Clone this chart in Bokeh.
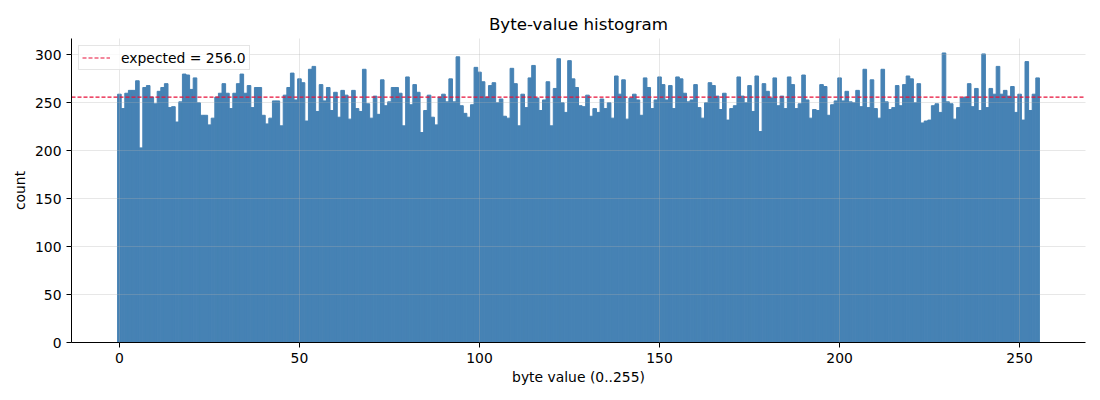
from bokeh.plotting import figure
from bokeh.models import Range1d, FixedTicker, Legend, LegendItem
from bokeh.embed import file_html
from bokeh.resources import INLINE

# ---- data -----------------------------------------------------------------
BYTE_VALUES = list(range(256))
COUNTS = [
    259, 244, 260, 263, 263, 273, 203, 266, 268, 256, 249, 262, 266, 270, 245, 246,
    230, 251, 280, 279, 264, 276, 250, 237, 237, 227, 234, 256, 260, 270, 260, 244,
    260, 270, 280, 260, 268, 245, 266, 266, 237, 228, 234, 252, 252, 226, 258, 266,
    281, 253, 275, 271, 231, 285, 288, 241, 269, 252, 266, 242, 261, 235, 263, 258,
    233, 263, 244, 241, 285, 249, 234, 257, 238, 274, 247, 251, 266, 266, 260, 226,
    277, 248, 269, 261, 219, 242, 258, 235, 227, 256, 259, 251, 275, 251, 298, 247,
    239, 235, 248, 287, 282, 272, 256, 268, 271, 250, 254, 236, 234, 286, 270, 226,
    259, 245, 276, 289, 255, 242, 253, 272, 226, 265, 296, 250, 240, 294, 275, 266,
    247, 246, 258, 236, 244, 240, 254, 244, 250, 234, 278, 259, 274, 233, 255, 259,
    253, 237, 276, 266, 244, 253, 277, 269, 253, 268, 244, 277, 275, 260, 251, 253,
    269, 245, 234, 250, 271, 268, 257, 243, 260, 232, 244, 247, 277, 257, 250, 268,
    241, 278, 220, 270, 262, 255, 276, 247, 257, 244, 277, 269, 244, 249, 279, 253,
    234, 243, 242, 269, 267, 237, 248, 252, 276, 252, 262, 251, 250, 263, 246, 285,
    245, 274, 244, 234, 285, 251, 243, 245, 268, 247, 269, 278, 275, 250, 270, 229,
    231, 232, 247, 249, 240, 302, 251, 249, 233, 245, 255, 256, 270, 246, 265, 242,
    301, 245, 265, 259, 288, 259, 263, 257, 267, 240, 259, 232, 293, 242, 259, 276,
]
EXPECTED = 256.0
X_TICKS = [0, 50, 100, 150, 200, 250]
Y_TICKS = [0, 50, 100, 150, 200, 250, 300]
TITLE = "Byte-value histogram"
X_LABEL = "byte value (0..255)"
Y_LABEL = "count"

# ---- ranges (matplotlib-like 5% margins) ----------------------------------
lo = BYTE_VALUES[0] - 0.5
hi = BYTE_VALUES[-1] + 0.5
span_w = hi - lo
x_start, x_end = lo - 0.05 * span_w, hi + 0.05 * span_w
x_range = Range1d(x_start, x_end)
y_range = Range1d(0, max(COUNTS) * 1.05)

FONT = "DejaVu Sans"
BAR = "#4682b4"
RED = "#e8103a"

p = figure(
    width=1100, height=400,
    output_backend="svg", toolbar_location=None,
    x_range=x_range, y_range=y_range,
    min_border_left=71, min_border_right=15,
    min_border_top=38, min_border_bottom=58,
    title=TITLE,
)
p.outline_line_color = None
p.background_fill_color = "white"
p.border_fill_color = "white"

p.title.align = "center"
p.title.text_font = FONT
p.title.text_font_size = "16.7px"
p.title.text_font_style = "normal"
p.title.text_color = "black"

p.vbar(x=BYTE_VALUES, width=1.0, top=COUNTS, bottom=0,
       fill_color=BAR, line_color=BAR, line_width=1)

# grid drawn above the bars, faint
p.grid.grid_line_color = "#b0b0b0"
p.grid.grid_line_alpha = 0.3
p.grid.grid_line_width = 1
p.grid.level = "guide"

# expected line across the whole axis width
exp_line = p.line(x=[x_start, x_end], y=[EXPECTED, EXPECTED],
                  line_color=RED, line_dash="4 2", line_width=1.2)
legend = Legend(items=[LegendItem(label=f"expected = {EXPECTED:.1f}", renderers=[exp_line])],
                location="top_left")
legend.border_line_color = "#cccccc"
legend.border_line_width = 1
legend.background_fill_alpha = 0.8
legend.label_text_font = FONT
legend.label_text_font_size = "13.9px"
legend.label_text_color = "black"
legend.glyph_width = 28
legend.glyph_height = 17
legend.label_height = 17
legend.label_standoff = 11
legend.padding = 3
legend.margin = 7
p.add_layout(legend)

# axes
p.xaxis.ticker = FixedTicker(ticks=X_TICKS)
p.yaxis.ticker = FixedTicker(ticks=Y_TICKS)
p.xaxis.axis_label = X_LABEL
p.yaxis.axis_label = Y_LABEL
for ax in (p.xaxis, p.yaxis):
    ax.minor_tick_line_color = None
    ax.major_tick_in = 0
    ax.major_tick_out = 5
    ax.axis_line_color = "black"
    ax.major_tick_line_color = "black"
    ax.major_label_text_font = FONT
    ax.major_label_text_font_size = "13.9px"
    ax.major_label_text_color = "black"
    ax.axis_label_text_font = FONT
    ax.axis_label_text_font_size = "13.9px"
    ax.axis_label_text_font_style = "normal"
    ax.axis_label_text_color = "black"
p.xaxis.axis_label_standoff = 3
p.yaxis.axis_label_standoff = 4

open("out.html", "w").write(file_html(p, INLINE))
